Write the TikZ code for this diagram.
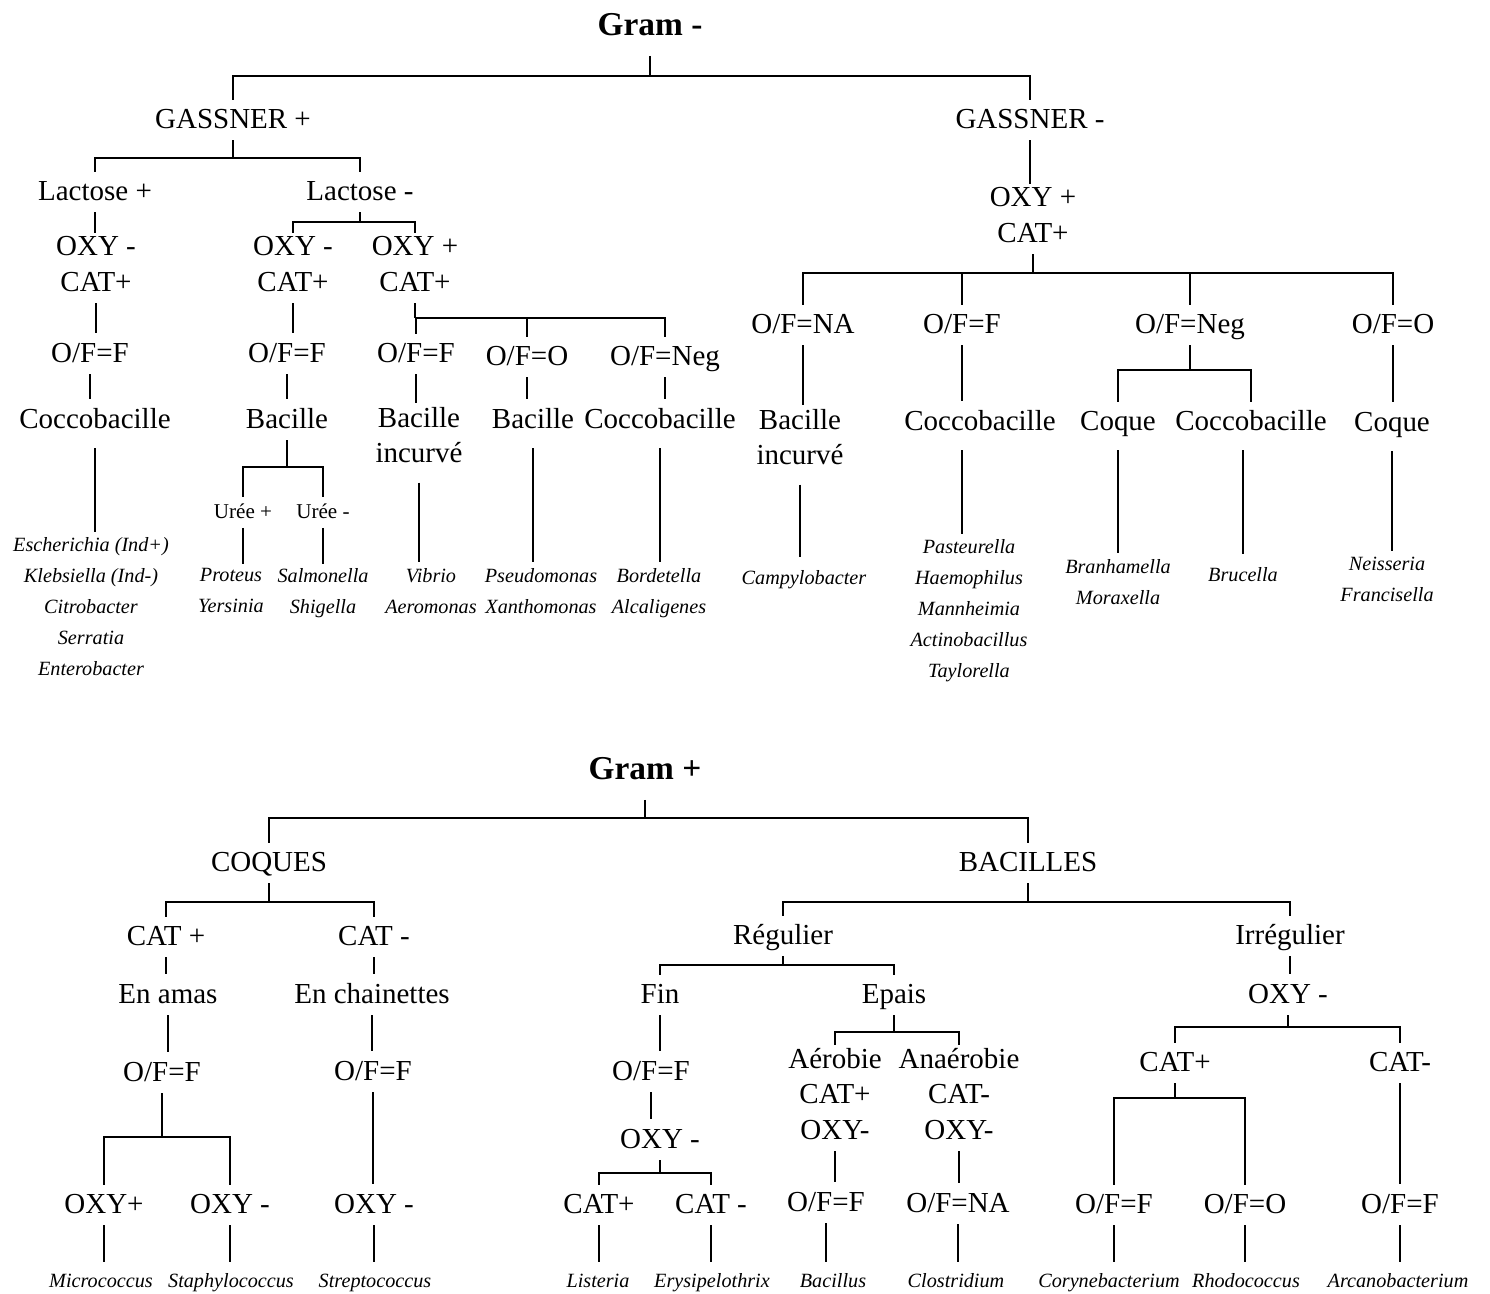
\documentclass[tikz,border=0pt]{standalone}
\usepackage{fontspec}
\setmainfont{Liberation Serif}

\tikzset{
  every node/.style={yshift=-1.8pt, execute at begin node=\strut, execute at end node=\strut},
  lbl/.style={inner sep=0pt, align=center, font=\fontsize{16.5}{20}\selectfont},
  ttl/.style={inner xsep=0pt, inner ysep=4pt, font=\fontsize{19}{23}\selectfont\bfseries},
  small/.style={inner sep=0pt, align=center, font=\fontsize{12}{15}\selectfont},
  genus/.style={inner sep=0pt, align=center, font=\fontsize{11.5}{17.6}\selectfont\itshape},
  stem/.style={shorten <=0.5pt, shorten >=2pt},
  longstem/.style={shorten <=5pt, shorten >=3pt},
}

% parent, y of the bar, children
\newcommand{\forkto}[3]{%
  \draw[shorten <=0.5pt] (#1.south) -- (#1.south |- 0,#2);
  \foreach \kid in {#3}
    \draw[shorten >=1.5pt] (#1.south |- 0,#2) -| (\kid.north);
}

\begin{document}
\begin{tikzpicture}[x=0.02cm, y=-0.02cm, line width=0.8pt]
  \useasboundingbox (0,0) rectangle (1490,1294);

  % Gram -
  \node[ttl] (gramn) at (650,24) {Gram -};
  \node[lbl] (gassp) at (233,118) {GASSNER +};
  \node[lbl] (gassn) at (1030,118) {GASSNER -};
  \node[lbl] (lacp) at (95,190) {Lactose +};
  \node[lbl] (lacn) at (360,190) {Lactose -};
  \node[lbl] (oxym1) at (96,266) {OXY -\\CAT+};
  \node[lbl] (oxym2) at (293,266) {OXY -\\CAT+};
  \node[lbl] (oxyp2) at (415,266) {OXY +\\CAT+};
  \node[lbl] (of1) at (90,352) {O/F=F};
  \node[lbl] (of2) at (287,352) {O/F=F};
  \node[lbl] (of3) at (416,352) {O/F=F};
  \node[lbl] (of4) at (527,355) {O/F=O};
  \node[lbl] (of5) at (665,355) {O/F=Neg};
  \node[lbl] (cocco1) at (95,418) {Coccobacille};
  \node[lbl] (bac2) at (287,418) {Bacille};
  \node[lbl] (bacinc3) at (419,437) {Bacille\\incurvé};
  \node[lbl] (bac4) at (533,418) {Bacille};
  \node[lbl] (cocco5) at (660,418) {Coccobacille};
  \node[small] (ureap) at (243,510) {Urée +};
  \node[small] (urean) at (323,510) {Urée -};

  \node[lbl] (oxyp6) at (1033,217) {OXY +\\CAT+};
  \node[lbl] (of7) at (803,323) {O/F=NA};
  \node[lbl] (of8) at (962,323) {O/F=F};
  \node[lbl] (of9) at (1190,323) {O/F=Neg};
  \node[lbl] (of10) at (1393,323) {O/F=O};
  \node[lbl] (bacinc7) at (800,439) {Bacille\\incurvé};
  \node[lbl] (cocco8) at (980,420) {Coccobacille};
  \node[lbl] (coque9) at (1118,420) {Coque};
  \node[lbl] (cocco9) at (1251,420) {Coccobacille};
  \node[lbl] (coque10) at (1392,421) {Coque};

  \node[genus] (esch) at (91,608) {Escherichia (Ind+)\\Klebsiella (Ind-)\\Citrobacter\\Serratia\\Enterobacter};
  \node[genus] (proteus) at (231,592) {Proteus\\Yersinia};
  \node[genus] (salmo) at (323,592) {Salmonella\\Shigella};
  \node[genus] (vibrio) at (431,592) {Vibrio\\Aeromonas};
  \node[genus] (pseudo) at (541,592) {Pseudomonas\\Xanthomonas};
  \node[genus] (borde) at (659,592) {Bordetella\\Alcaligenes};
  \node[genus] (campy) at (804,575) {Campylobacter};
  \node[genus] (past) at (969,610) {Pasteurella\\Haemophilus\\Mannheimia\\Actinobacillus\\Taylorella};
  \node[genus] (bran) at (1118,583) {Branhamella\\Moraxella};
  \node[genus] (bruc) at (1243,572) {Brucella};
  \node[genus] (neis) at (1387,581) {Neisseria\\Francisella};

  % Gram +
  \node[ttl] (gramp) at (645,768) {Gram +};
  \node[lbl] (coques) at (269,861) {COQUES};
  \node[lbl] (bacilles) at (1028,861) {BACILLES};
  \node[lbl] (catp) at (166,935) {CAT +};
  \node[lbl] (catn) at (374,935) {CAT -};
  \node[lbl] (amas) at (168,993) {En amas};
  \node[lbl] (chain) at (372,993) {En chainettes};
  \node[lbl] (of11) at (162,1071) {O/F=F};
  \node[lbl] (of12) at (373,1070) {O/F=F};
  \node[lbl] (oxyp11) at (104,1203) {OXY+};
  \node[lbl] (oxyn11) at (230,1203) {OXY -};
  \node[lbl] (oxyn12) at (374,1203) {OXY -};

  \node[lbl] (reg) at (783,934) {Régulier};
  \node[lbl] (irreg) at (1290,934) {Irrégulier};
  \node[lbl] (fin) at (660,993) {Fin};
  \node[lbl] (epais) at (894,993) {Epais};
  \node[lbl] (of13) at (651,1070) {O/F=F};
  \node[lbl] (oxy13) at (660,1138) {OXY -};
  \node[lbl] (cat14) at (599,1203) {CAT+};
  \node[lbl] (cat15) at (711,1203) {CAT -};
  \node[lbl] (aero) at (835,1096) {Aérobie\\CAT+\\OXY-};
  \node[lbl] (anaero) at (959,1096) {Anaérobie\\CAT-\\OXY-};
  \node[lbl] (of16) at (826,1201) {O/F=F};
  \node[lbl] (of17) at (958,1202) {O/F=NA};
  \node[lbl] (oxy18) at (1288,993) {OXY -};
  \node[lbl] (cat19) at (1175,1061) {CAT+};
  \node[lbl] (cat20) at (1400,1061) {CAT-};
  \node[lbl] (of21) at (1114,1203) {O/F=F};
  \node[lbl] (of22) at (1245,1203) {O/F=O};
  \node[lbl] (of23) at (1400,1203) {O/F=F};

  \node[genus] (micro) at (101,1278) {Micrococcus};
  \node[genus] (staph) at (231,1278) {Staphylococcus};
  \node[genus] (strep) at (375,1278) {Streptococcus};
  \node[genus] (list) at (598,1278) {Listeria};
  \node[genus] (erys) at (712,1278) {Erysipelothrix};
  \node[genus] (bacillus) at (833,1278) {Bacillus};
  \node[genus] (clos) at (956,1278) {Clostridium};
  \node[genus] (cory) at (1109,1278) {Corynebacterium};
  \node[genus] (rhodo) at (1246,1278) {Rhodococcus};
  \node[genus] (arca) at (1398,1278) {Arcanobacterium};

  % brackets
  \forkto{gramn}{76}{gassp,gassn}
  \forkto{gassp}{158}{lacp,lacn}
  \forkto{lacn}{222}{oxym2,oxyp2}
  \forkto{oxyp2}{318}{of3,of4,of5}
  \forkto{bac2}{467}{ureap,urean}
  \forkto{oxyp6}{273}{of7,of8,of9,of10}
  \forkto{of9}{370}{coque9,cocco9}
  \forkto{gramp}{818}{coques,bacilles}
  \forkto{coques}{902}{catp,catn}
  \forkto{of11}{1137}{oxyp11,oxyn11}
  \forkto{bacilles}{902}{reg,irreg}
  \forkto{reg}{965}{fin,epais}
  \forkto{oxy13}{1173}{cat14,cat15}
  \forkto{epais}{1032}{aero,anaero}
  \forkto{oxy18}{1027}{cat19,cat20}
  \forkto{cat19}{1098}{of21,of22}

  % straight links
  \foreach \a/\b in {lacp/oxym1, oxym1/of1, of1/cocco1, oxym2/of2, of2/bac2,
      of3/bacinc3, of4/bac4, of5/cocco5, ureap/proteus, urean/salmo,
      gassn/oxyp6, of7/bacinc7, of8/cocco8, of10/coque10,
      catp/amas, catn/chain, amas/of11, chain/of12, of12/oxyn12,
      oxyp11/micro, oxyn11/staph, oxyn12/strep,
      fin/of13, of13/oxy13, cat14/list, cat15/erys, aero/of16, anaero/of17,
      of16/bacillus, of17/clos, irreg/oxy18, cat20/of23,
      of21/cory, of22/rhodo, of23/arca}
    \draw[stem] (\a.south) -- (\a.south |- \b.north);

  \foreach \a/\b in {cocco1/esch, bacinc3/vibrio, bac4/pseudo, cocco5/borde,
      bacinc7/campy, coque9/bran, coque10/neis}
    \draw[longstem] (\a.south) -- (\a.south |- \b.north);
  \draw[longstem] (cocco8.south -| of8) -- (of8 |- past.north);
  \draw[longstem] (cocco9.south -| bruc) -- (bruc.north);
\end{tikzpicture}
\end{document}
